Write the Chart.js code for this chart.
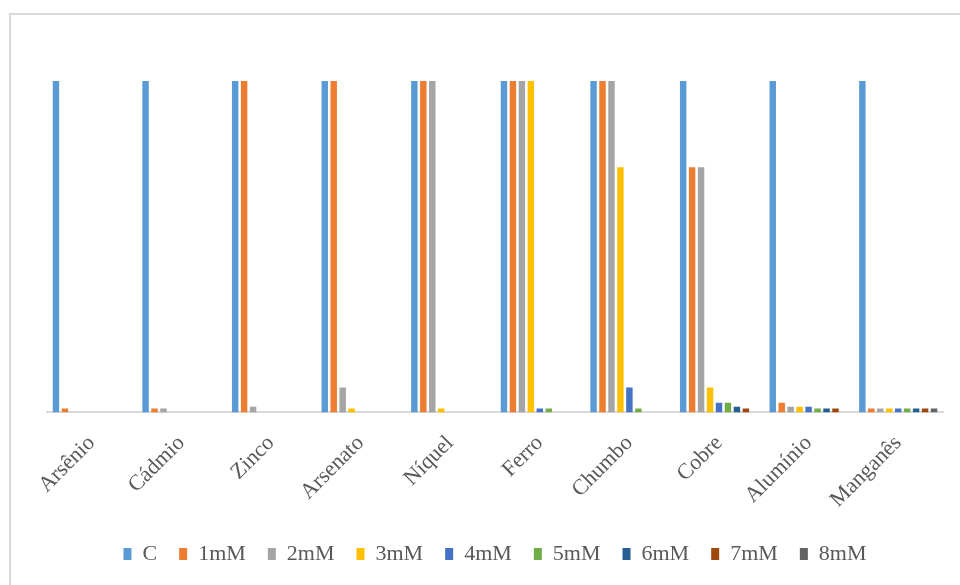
<!DOCTYPE html>
<html>
<head>
<meta charset="utf-8">
<script src="https://cdn.jsdelivr.net/npm/chart.js@4/dist/chart.umd.min.js"></script>
<style>
    body { margin: 0; background: #fff; }
    #wrap { position: relative; width: 960px; height: 585px; overflow: hidden; }
    #frame {
        position: absolute; left: 9px; top: 13px; width: 1000px; height: 700px;
        border-left: 2px solid #d9d9d9; border-top: 2px solid #d9d9d9;
    }
    canvas { position: absolute; left: 0; top: 0; }
</style>
</head>
<body>
<div id="wrap">
    <div id="frame"></div>
    <canvas id="myChart" width="960" height="585"></canvas>
</div>
<script>
const categories = ["Arsênio", "Cádmio", "Zinco", "Arsenato", "Níquel", "Ferro", "Chumbo", "Cobre", "Alumínio", "Manganês"];

const seriesNames = ["C", "1mM", "2mM", "3mM", "4mM", "5mM", "6mM", "7mM", "8mM"];

const valuesC   = [100, 100, 100, 100, 100, 100, 100, 100, 100, 100];
const values1mM = [1.2, 1.2, 100, 100, 100, 100, 100, 74, 2.9, 1.2];
const values2mM = [0, 1.2, 1.7, 7.5, 100, 100, 100, 74, 1.7, 1.2];
const values3mM = [0, 0, 0, 1.2, 1.2, 100, 74, 7.5, 1.7, 1.2];
const values4mM = [0, 0, 0, 0, 0, 1.2, 7.5, 2.9, 1.7, 1.2];
const values5mM = [0, 0, 0, 0, 0, 1.2, 1.2, 2.9, 1.2, 1.2];
const values6mM = [0, 0, 0, 0, 0, 0, 0, 1.7, 1.2, 1.2];
const values7mM = [0, 0, 0, 0, 0, 0, 0, 1.2, 1.2, 1.2];
const values8mM = [0, 0, 0, 0, 0, 0, 0, 0, 0, 1.2];

const colors = ["#5B9BD5", "#ED7D31", "#A5A5A5", "#FFC000", "#4472C4", "#70AD47", "#255E91", "#9E480E", "#636363"];

const allValues = [valuesC, values1mM, values2mM, values3mM, values4mM, values5mM, values6mM, values7mM, values8mM];

const datasets = seriesNames.map((name, i) => ({
    label: name,
    data: allValues[i],
    backgroundColor: colors[i],
    borderWidth: 0,
    categoryPercentage: 0.9,
    barPercentage: 0.72
}));

const serif = "'Liberation Serif', 'Times New Roman', serif";
const ctx = document.getElementById("myChart").getContext("2d");

new Chart(ctx, {
    type: "bar",
    data: { labels: categories, datasets: datasets },
    options: {
        responsive: false,
        animation: false,
        layout: { padding: { top: 81, left: 47, right: 17, bottom: 10 } },
        plugins: {
            tooltip: { enabled: false },
            legend: {
                position: "bottom",
                labels: {
                    boxWidth: 8,
                    boxHeight: 12,
                    padding: 22,
                    color: "#595959",
                    font: { family: serif, size: 22 }
                }
            }
        },
        scales: {
            x: {
                grid: { display: false, drawTicks: false },
                border: { display: true, color: "#d9d9d9", width: 2 },
                ticks: {
                    minRotation: 45,
                    maxRotation: 45,
                    padding: 18,
                    color: "#595959",
                    font: { family: serif, size: 22 }
                },
                // labels can hang a little into the legend's gap
                afterFit: (scale) => { scale.height -= 10; }
            },
            y: {
                display: false,
                min: 0,
                max: 100
            }
        }
    }
});
</script>
</body>
</html>
